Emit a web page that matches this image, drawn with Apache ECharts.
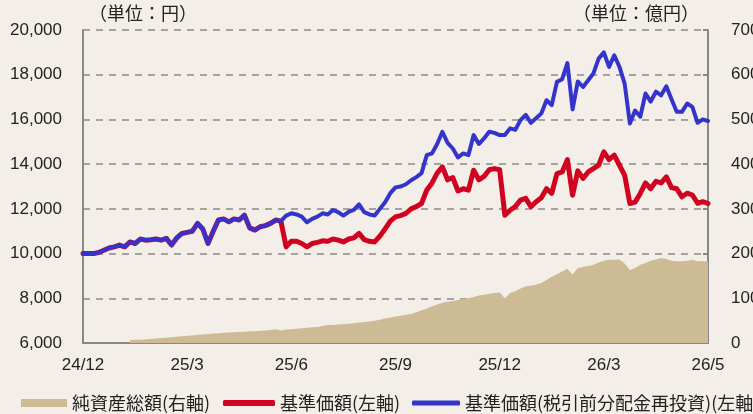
<!DOCTYPE html>
<html>
<head>
<meta charset="utf-8">
<script src="https://cdn.jsdelivr.net/npm/echarts@6/dist/echarts.min.js"></script>
<style>
  html, body { margin: 0; padding: 0; background: #f3efe8; }
  #main { width: 753px; height: 414px; }
</style>
</head>
<body>
<div id="main"></div>
<script>
// 表示する月ラベル（20点ごとに表示）
var tickLabels = ['24/12', '25/3', '25/6', '25/9', '25/12', '26/3', '26/5'];

// 基準価額(税引前分配金再投資) 円
var navReinvest = [
  10000, 10000, 10000, 10050, 10150, 10250, 10300, 10380, 10300, 10520,
  10450, 10650, 10600, 10620, 10650, 10600, 10680, 10380, 10700, 10900,
  10950, 11000, 11350, 11100, 10450, 11000, 11500, 11550, 11420, 11550,
  11500, 11720, 11150, 11050, 11200, 11250, 11350, 11500, 11450, 11700,
  11800, 11750, 11650, 11400, 11550, 11650, 11800, 11750, 11950, 11850,
  11700, 11870, 11950, 12200, 11850, 11750, 11700, 12000, 12300, 12700,
  12960, 13000, 13100, 13280, 13420, 13600, 14400, 14480, 14900, 15450,
  14950, 14700, 14300, 14480, 14400, 15300, 14900, 15150, 15450, 15400,
  15300, 15300, 15600, 15530, 15970, 16200, 15850, 16050, 16270, 16860,
  16640, 17680, 17800, 18520, 16450, 17700, 17450, 17750, 18060, 18720,
  19000, 18350, 18870, 18350, 17600, 15820, 16400, 16120, 17160, 16800,
  17240, 17080, 17480, 16900, 16340, 16340, 16710, 16560, 15850, 16000,
  15930
];

// 基準価額 円
var nav = [
  10000, 10000, 10000, 10050, 10150, 10250, 10300, 10380, 10300, 10520,
  10450, 10650, 10600, 10620, 10650, 10600, 10680, 10380, 10700, 10900,
  10950, 11000, 11350, 11100, 10450, 11000, 11500, 11550, 11420, 11550,
  11500, 11720, 11150, 11050, 11200, 11250, 11350, 11500, 11450, 10300,
  10550, 10550, 10450, 10300, 10450, 10500, 10570, 10550, 10650, 10600,
  10520, 10650, 10700, 10900, 10620, 10550, 10520, 10780, 11100, 11450,
  11640, 11700, 11800, 12000, 12100, 12240, 12840, 13150, 13600, 13880,
  13300, 13400, 12800, 12900, 12840, 13730, 13300, 13450, 13750, 13800,
  13750, 11720, 11940, 12100, 12390, 12470, 12100, 12320, 12500, 12900,
  12690, 13580, 13650, 14200, 12610, 13700, 13360, 13650, 13800, 13950,
  14550, 14200, 14400, 13950, 13500, 12240, 12300, 12690, 13160, 12900,
  13230, 13160, 13430, 12950, 12900, 12540, 12700, 12620, 12250, 12320,
  12240
];

// 純資産総額 億円
var netAssets = [
  null, null, null, null, null, null, null, null, null, 6,
  7, 7.5, 8, 9, 10, 11, 12, 13, 14, 15,
  16, 17, 18.5, 19, 20, 21, 22, 23, 23.5, 24,
  24.5, 25, 26, 26.5, 27.5, 28, 29, 31, 28, 30,
  31, 32, 33, 34, 35, 36, 38, 40, 40.5, 41.5,
  42, 43, 44, 46, 47, 48, 50, 52, 55, 57,
  59, 61, 63, 65, 69, 73, 77, 82, 86, 90,
  92, 94, 96, 98, 100, 103, 106, 108, 110, 112,
  113, 100, 112, 116, 122, 127, 128, 131, 134, 141,
  148, 154, 160, 166, 153, 168, 170, 172, 175, 180,
  184, 186, 186, 187, 178, 163, 168, 175, 179, 184,
  187, 190, 188, 184, 183, 183, 184, 186, 183, 183,
  182
];

// カテゴリ（20点ごとに月ラベル、それ以外は空）
var categories = [];
for (var i = 0; i < nav.length; i++) {
  categories.push(i % 20 === 0 ? tickLabels[i / 20] : '');
}

var chart = echarts.init(document.getElementById('main'));

var textFont = '"Liberation Sans", "Noto Sans CJK JP", sans-serif';
var cjkFont = '"Noto Sans CJK JP", sans-serif';

var legendBase = {
  top: 389,
  orient: 'horizontal',
  itemGap: 12,
  textStyle: { color: '#222', fontSize: 18, fontFamily: cjkFont },
  selectedMode: false
};

chart.setOption({
  backgroundColor: '#f3efe8',
  animation: false,
  grid: { left: 83, right: 45, top: 30, bottom: 71, outerBoundsMode: 'none', containLabel: false },
  graphic: [
    { type: 'text', left: 89, top: 4, style: { text: '（単位：円）', fontSize: 18, fontFamily: cjkFont, fill: '#222' } },
    { type: 'text', left: 573, top: 4, style: { text: '（単位：億円）', fontSize: 18, fontFamily: cjkFont, fill: '#222' } }
  ],
  legend: [
    Object.assign({}, legendBase, {
      left: 16, itemWidth: 46, itemHeight: 8,
      data: [{ name: '純資産総額(右軸)', icon: 'rect' }]
    }),
    Object.assign({}, legendBase, {
      left: 218, itemWidth: 52, itemHeight: 6,
      data: [{ name: '基準価額(左軸)', icon: 'roundRect' }]
    }),
    Object.assign({}, legendBase, {
      left: 407, itemWidth: 48, itemHeight: 5,
      data: [{ name: '基準価額(税引前分配金再投資)(左軸)', icon: 'roundRect' }]
    })
  ],
  xAxis: {
    type: 'category',
    boundaryGap: false,
    data: categories,
    axisLine: { lineStyle: { color: '#888', width: 2 } },
    axisTick: {
      inside: true, length: 5, interval: 19,
      lineStyle: { color: '#888', width: 2 }
    },
    axisLabel: {
      interval: 19, margin: 14,
      color: '#222', fontSize: 17, fontFamily: textFont
    },
    splitLine: { show: false }
  },
  yAxis: [
    {
      type: 'value',
      min: 6000, max: 20000, interval: 2000,
      axisLine: { show: true, lineStyle: { color: '#888', width: 2 } },
      axisTick: { show: false },
      axisLabel: {
        margin: 21, color: '#222', fontSize: 17, fontFamily: textFont,
        formatter: function (v) { return v.toLocaleString('en-US'); }
      },
      splitLine: { show: true, lineStyle: { color: '#8a8a8a', width: 1.5, type: [7, 6] } }
    },
    {
      type: 'value',
      min: 0, max: 700, interval: 100,
      position: 'right',
      axisLine: { show: true, lineStyle: { color: '#888', width: 2 } },
      axisTick: { show: true, inside: true, length: 5, lineStyle: { color: '#888', width: 2 } },
      axisLabel: { margin: 23, color: '#222', fontSize: 17, fontFamily: textFont },
      splitLine: { show: false }
    }
  ],
  series: [
    {
      name: '純資産総額(右軸)',
      type: 'line',
      yAxisIndex: 1,
      data: netAssets,
      showSymbol: false,
      symbol: 'none',
      color: '#ccbb94',
      lineStyle: { width: 0 },
      areaStyle: { color: '#ccbb94', opacity: 1 },
      z: 1
    },
    {
      name: '基準価額(左軸)',
      type: 'line',
      data: nav,
      symbol: 'none',
      color: '#d0021f',
      lineStyle: { color: '#d0021f', width: 5, join: 'round', cap: 'round' },
      z: 2
    },
    {
      name: '基準価額(税引前分配金再投資)(左軸)',
      type: 'line',
      data: navReinvest,
      symbol: 'none',
      color: '#3434cc',
      lineStyle: { color: '#3434cc', width: 4, join: 'round', cap: 'round' },
      z: 3
    }
  ]
});
</script>
</body>
</html>
